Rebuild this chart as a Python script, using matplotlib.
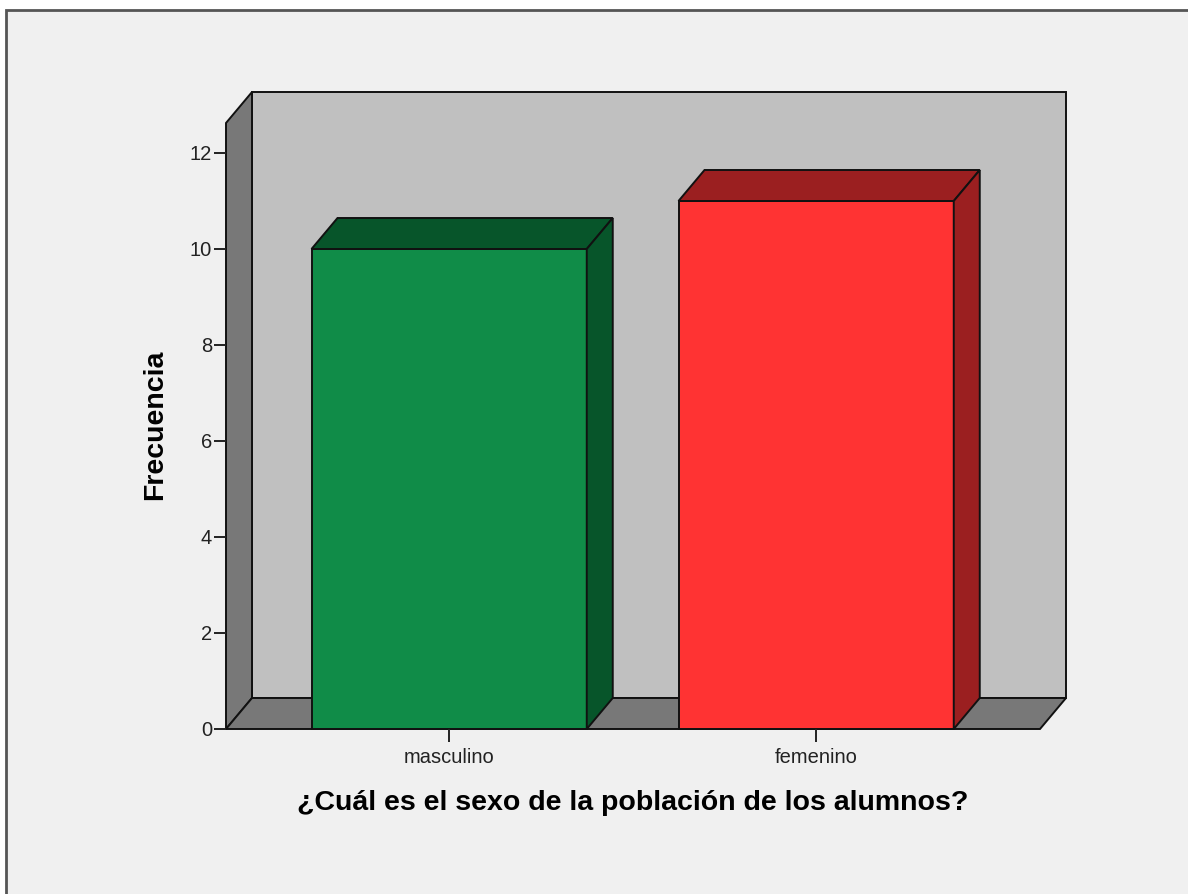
import matplotlib
matplotlib.use("Agg")
import matplotlib.pyplot as plt
from matplotlib.patches import Polygon, Rectangle

# data
categories = ["masculino", "femenino"]
frecuencia = [10, 11]
yticks = [0, 2, 4, 6, 8, 10, 12]

front_colors = ["#108c48", "#ff3333"]
dark_colors = ["#07552a", "#9b1f20"]

W, H = 1188, 894
fig = plt.figure(figsize=(W / 100, H / 100), dpi=100, facecolor="white")

# grey frame of the chart window (runs off the right / bottom)
fig.patches.append(Rectangle((6 / W, -0.1), 1.5, 1 - 10 / H + 0.1,
                             transform=fig.transFigure, facecolor="#f0f0f0",
                             edgecolor="#555555", lw=2.0, zorder=-5))

# front plane of the 3d box: x from 226 to 1040 px, y from 729 to 123 px
ax = fig.add_axes([226 / W, (H - 729) / H, (1040 - 226) / W, (729 - 123) / H])
ax.patch.set_visible(False)
for s in ax.spines.values():
    s.set_visible(False)

x0, x1 = -0.608, 1.61
ytop = 12.625
ax.set_xlim(x0, x1)
ax.set_ylim(0, ytop)

# depth offset 26 px right, 31 px up -> data units
fig.canvas.draw()
inv = ax.transData.inverted()
p0 = inv.transform(ax.transData.transform((0, 0)))
p1 = inv.transform(ax.transData.transform((0, 0)) + [26, 31])
dx, dy = p1 - p0

edge = dict(edgecolor="#111111", lw=1.4, clip_on=False, joinstyle="miter")

# back wall, left wall, floor
ax.add_patch(Polygon([(x0 + dx, dy), (x1 + dx, dy), (x1 + dx, ytop + dy), (x0 + dx, ytop + dy)],
                     facecolor="#c0c0c0", **edge))
ax.add_patch(Polygon([(x0, 0), (x0, ytop), (x0 + dx, ytop + dy), (x0 + dx, dy)],
                     facecolor="#787878", **edge))
ax.add_patch(Polygon([(x0, 0), (x1, 0), (x1 + dx, dy), (x0 + dx, dy)],
                     facecolor="#787878", **edge))

bw = 0.75
for i, v in enumerate(frecuencia):
    l, r = i - bw / 2, i + bw / 2
    ax.add_patch(Polygon([(l, 0), (r, 0), (r, v), (l, v)], facecolor=front_colors[i], **edge))
    ax.add_patch(Polygon([(l, v), (r, v), (r + dx, v + dy), (l + dx, v + dy)],
                         facecolor=dark_colors[i], **edge))
    ax.add_patch(Polygon([(r, 0), (r, v), (r + dx, v + dy), (r + dx, dy)],
                         facecolor=dark_colors[i], **edge))

ax.set_xticks(range(len(categories)))
ax.set_xticklabels(categories, fontsize=14.5, family="Liberation Sans", color="#222222")
ax.set_yticks(yticks)
ax.set_yticklabels([str(t) for t in yticks], fontsize=14.5, family="Liberation Sans", color="#222222")
ax.tick_params(axis="x", length=9, width=1.4, pad=5, color="#222222")
ax.tick_params(axis="y", length=8.5, width=1.4, pad=1.5, color="#222222")

ax.text(0.5, -0.122, "¿Cuál es el sexo de la población de los alumnos?", transform=ax.transAxes,
        ha="center", va="center", fontsize=20.5, fontweight="bold", family="Liberation Sans")
ax.text(-0.0872, 0.5017, "Frecuencia", transform=ax.transAxes, rotation=90,
        ha="center", va="center", fontsize=20.5, fontweight="bold", family="Liberation Sans")

fig.savefig("out.png", dpi=100, facecolor="white")
